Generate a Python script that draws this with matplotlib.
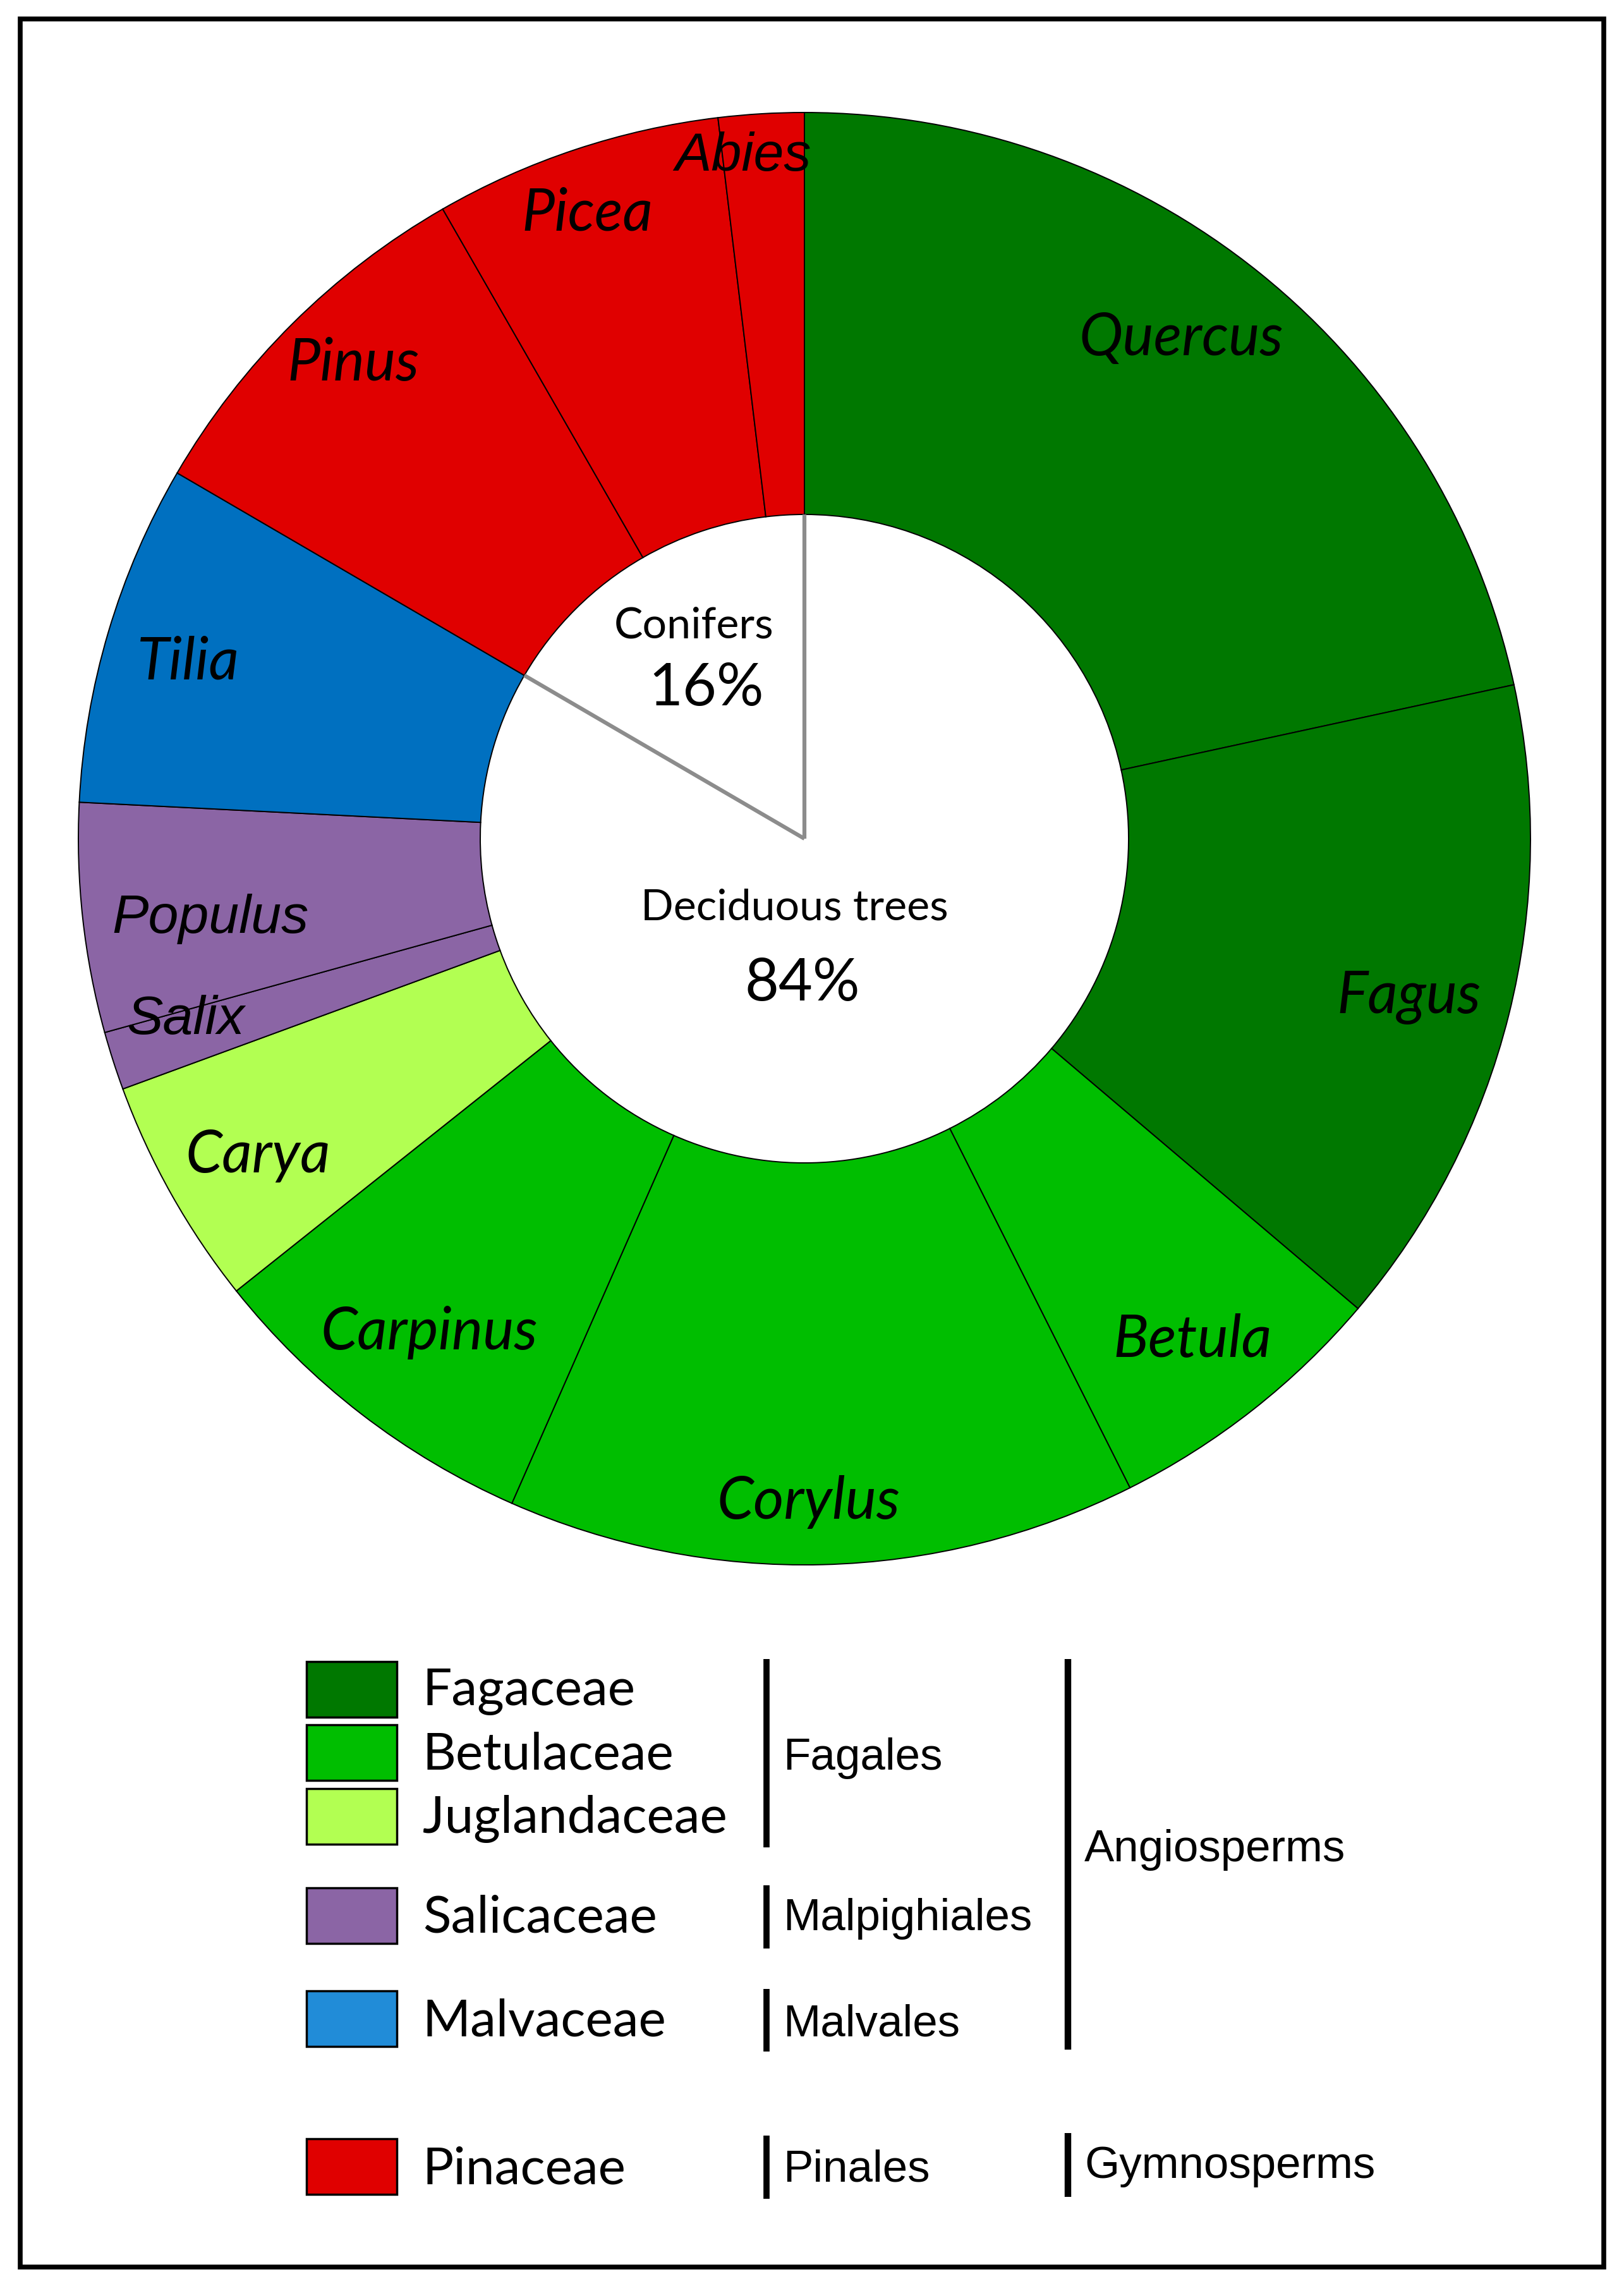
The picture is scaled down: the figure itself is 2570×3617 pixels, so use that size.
import numpy as np
import matplotlib
matplotlib.use("Agg")
import matplotlib.pyplot as plt
from matplotlib.patches import Rectangle

# genera, clockwise from 12 o'clock (share of trees, %)
genera = ["Quercus", "Fagus", "Betula", "Corylus", "Carpinus", "Carya",
          "Salix", "Populus", "Tilia", "Pinus", "Picea", "Abies"]
shares = [21.6, 14.6, 6.4, 14.0, 7.7, 5.1, 1.3, 5.1, 7.6, 8.3, 6.4, 1.9]
family = ["Fagaceae", "Fagaceae", "Betulaceae", "Betulaceae", "Betulaceae",
          "Juglandaceae", "Salicaceae", "Salicaceae", "Malvaceae",
          "Pinaceae", "Pinaceae", "Pinaceae"]

families = ["Fagaceae", "Betulaceae", "Juglandaceae", "Salicaceae", "Malvaceae", "Pinaceae"]
orders = ["Fagales", "Malpighiales", "Malvales", "Pinales"]
clades = ["Angiosperms", "Gymnosperms"]
groups = ["Conifers", "Deciduous trees"]
group_pct = ["16%", "84%"]

pie_col = {"Fagaceae": "#007800", "Betulaceae": "#00be00", "Juglandaceae": "#b2ff52",
           "Salicaceae": "#8b65a5", "Malvaceae": "#0070c0", "Pinaceae": "#e00000"}
leg_col = dict(pie_col, Malvaceae="#218cd8")

W, H = 2570, 3617
fig = plt.figure(figsize=(W / 100, H / 100), dpi=100)
ax = fig.add_axes([0, 0, 1, 1])

cx, cy = 1273, H - 1327
R, r = 1149, 513

wedges, _ = ax.pie(shares, colors=[pie_col[f] for f in family], startangle=90,
                   counterclock=False, center=(cx, cy), radius=R,
                   wedgeprops=dict(width=R - r, edgecolor="black", linewidth=1.4))
ax.set_xlim(0, W)
ax.set_ylim(0, H)
ax.set_aspect("auto")
ax.axis("off")

# label placement: offset from wedge middle (deg, clockwise) and radius fraction
lab_shift = [-1.9, 0.7, 0.4, 1.1, -0.4, -0.8, 1.5, -1.4, -0.6, 1.3, -0.8, -1.7]
lab_dist = [0.862, 0.861, 0.873, 0.913, 0.854, 0.870, 0.888, 0.826, 0.883, 0.902, 0.911, 0.943]
arial_like = {"Abies", "Populus", "Salix"}
for w, name, sh, d in zip(wedges, genera, lab_shift, lab_dist):
    a = np.deg2rad((w.theta1 + w.theta2) / 2 - sh)
    x, y = cx + d * R * np.cos(a), cy + d * R * np.sin(a)
    if name in arial_like:
        ax.text(x, y, name, ha="center", va="center", fontsize=62, style="italic",
                family="Liberation Sans")
    else:
        ax.text(x, y, name, ha="center", va="center", fontsize=67, style="italic",
                family="Lato")

# grey split between conifers and deciduous trees
conif_edge = np.deg2rad(wedges[genera.index("Pinus")].theta2)
ax.plot([cx, cx], [cy, cy + r], color="#8c8c8c", lw=4.5, solid_capstyle="butt")
ax.plot([cx, cx + r * np.cos(conif_edge)], [cy, cy + r * np.sin(conif_edge)],
        color="#8c8c8c", lw=4.5, solid_capstyle="butt")

ax.text(1098, H - 990, groups[0], ha="center", va="center", fontsize=49, family="Lato")
ax.text(1118, H - 1090, group_pct[0], ha="center", va="center", fontsize=67, family="Lato")
ax.text(1257, H - 1437, groups[1], ha="center", va="center", fontsize=49, family="Lato")
ax.text(1270, H - 1557, group_pct[1], ha="center", va="center", fontsize=67, family="Lato")

# legend
box_y = [2673, 2773, 2874, 3031, 3194, 3428]
for fam, yc in zip(families, box_y):
    ax.add_patch(Rectangle((485, H - yc - 44), 143, 88, facecolor=leg_col[fam],
                           edgecolor="black", linewidth=2.5))
    ax.text(669, H - yc - 4, fam, ha="left", va="center", fontsize=59, family="Lato")

order_bars = [(2625, 2923), (2983, 3083), (3147, 3246), (3379, 3479)]
order_y = [2782, 3036, 3204, 3433]
for name, (y0, y1), yt in zip(orders, order_bars, order_y):
    ax.plot([1213, 1213], [H - y0, H - y1], color="black", lw=7, solid_capstyle="butt")
    ax.text(1239, H - yt, name, ha="left", va="center", fontsize=51, family="Liberation Sans")

clade_bars = [(2625, 3243), (3375, 3476)]
clade_y = [2927, 3428]
for name, (y0, y1), yt in zip(clades, clade_bars, clade_y):
    ax.plot([1690, 1690], [H - y0, H - y1], color="black", lw=7.5, solid_capstyle="butt")
    ax.text(1716, H - yt, name, ha="left", va="center", fontsize=51, family="Liberation Sans")

# outer frame
ax.add_patch(Rectangle((32, 30), W - 64, H - 60, fill=False, edgecolor="black", linewidth=5.5))

fig.savefig("out.png", dpi=100, facecolor="white")
